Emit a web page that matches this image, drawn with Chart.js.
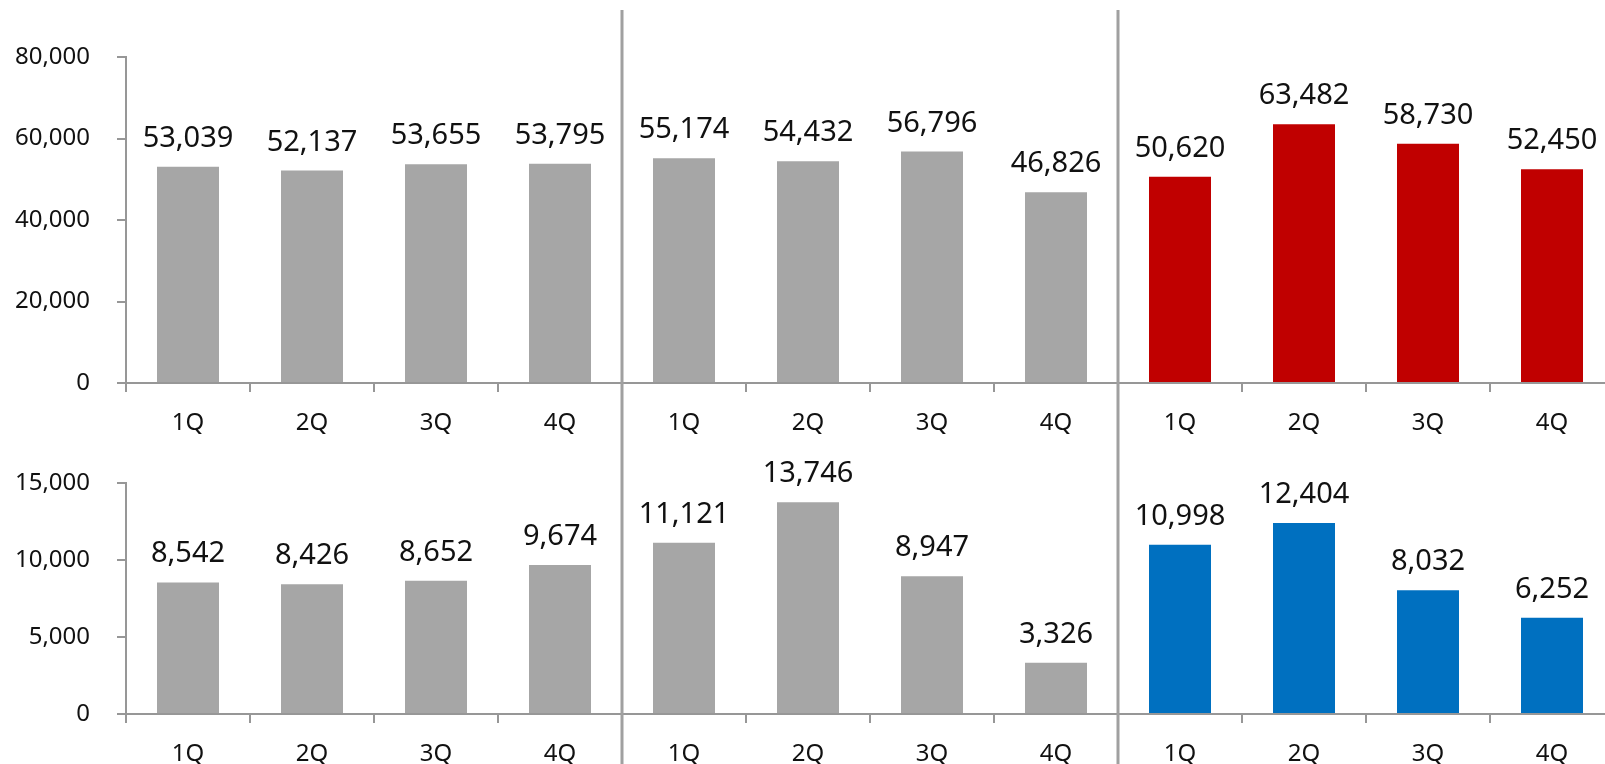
<!DOCTYPE html>
<html><head><meta charset="utf-8">
<script src="https://cdn.jsdelivr.net/npm/chart.js@4"></script>
<style>
html,body{margin:0;padding:0;background:#fff;overflow:hidden;width:1605px;height:764px;}
#topC{position:absolute;left:0;top:0;}
#botC{position:absolute;left:0;top:440px;}
</style></head><body>
<canvas id="topC" width="1614" height="440"></canvas>
<canvas id="botC" width="1614" height="360"></canvas>
<script>
const categories = ['1Q','2Q','3Q','4Q','1Q','2Q','3Q','4Q','1Q','2Q','3Q','4Q'];
const topValues = [53039, 52137, 53655, 53795, 55174, 54432, 56796, 46826, 50620, 63482, 58730, 52450];
const bottomValues = [8542, 8426, 8652, 9674, 11121, 13746, 8947, 3326, 10998, 12404, 8032, 6252];
const topTickMax = 80000, topTickStep = 20000;
const bottomTickMax = 15000, bottomTickStep = 5000;
const groupBoundaries = [3, 7]; // separators after these category indices

const GRAY = '#a6a6a6', RED = '#c00000', BLUE = '#0070c0';
const AXIS = '#979797', SEP = '#a0a0a0';
const FONT = '"Noto Sans", "Open Sans", sans-serif';
const topColors = categories.map((c, i) => i >= 8 ? RED : GRAY);
const botColors = categories.map((c, i) => i >= 8 ? BLUE : GRAY);

const fmt = v => Number(v).toLocaleString('en-US');

const valueLabels = {
  id: 'valueLabels',
  afterDatasetsDraw(chart) {
    const ctx = chart.ctx;
    ctx.save();
    ctx.font = '29px ' + FONT;
    ctx.fillStyle = '#111';
    ctx.textAlign = 'center';
    ctx.textBaseline = 'alphabetic';
    chart.data.datasets.forEach((ds, di) => {
      chart.getDatasetMeta(di).data.forEach((bar, i) => {
        ctx.fillText(fmt(ds.data[i]), bar.x, bar.y - 20);
      });
    });
    ctx.restore();
  }
};

const separators = {
  id: 'separators',
  afterDraw(chart, args, opts) {
    const ctx = chart.ctx, xs = chart.scales.x;
    ctx.save();
    ctx.strokeStyle = SEP;
    ctx.lineWidth = 3;
    groupBoundaries.forEach(b => {
      const x = Math.round((xs.getPixelForValue(b) + xs.getPixelForValue(b + 1)) / 2);
      ctx.beginPath();
      ctx.moveTo(x, opts.top);
      ctx.lineTo(x, chart.height);
      ctx.stroke();
    });
    ctx.restore();
  }
};

function makeChart(id, values, colors, max, step, padTop, xHeight, sepTop) {
  return new Chart(document.getElementById(id), {
    type: 'bar',
    data: {
      labels: categories,
      datasets: [{
        data: values,
        backgroundColor: colors,
        barPercentage: 0.5,
        categoryPercentage: 1.0
      }]
    },
    options: {
      responsive: false,
      devicePixelRatio: 1,
      animation: false,
      layout: { padding: { top: padTop, left: 0, right: 0, bottom: 0 } },
      plugins: {
        legend: { display: false },
        tooltip: { enabled: false },
        separators: { top: sepTop }
      },
      scales: {
        x: {
          offset: true,
          grid: { offset: true, drawOnChartArea: false, drawTicks: true, tickLength: 9, color: AXIS, lineWidth: 2 },
          border: { display: true, color: AXIS, width: 2 },
          ticks: { color: '#111', font: { family: FONT, size: 24 }, padding: 17, maxRotation: 0, autoSkip: false },
          afterFit(scale) { scale.height = xHeight; }
        },
        y: {
          min: 0, max: max,
          ticks: { stepSize: step, color: '#111', font: { family: FONT, size: 24 }, padding: 27, callback: v => fmt(v) },
          grid: { drawOnChartArea: false, drawTicks: true, tickLength: 9, color: AXIS, lineWidth: 2 },
          border: { display: true, color: AXIS, width: 2 },
          afterFit(scale) { scale.width = 126; }
        }
      }
    },
    plugins: [valueLabels, separators]
  });
}

makeChart('topC', topValues, topColors, topTickMax, topTickStep, 57, 57, 10);
makeChart('botC', bottomValues, botColors, bottomTickMax, bottomTickStep, 43, 86, 0);
</script>
</body></html>
